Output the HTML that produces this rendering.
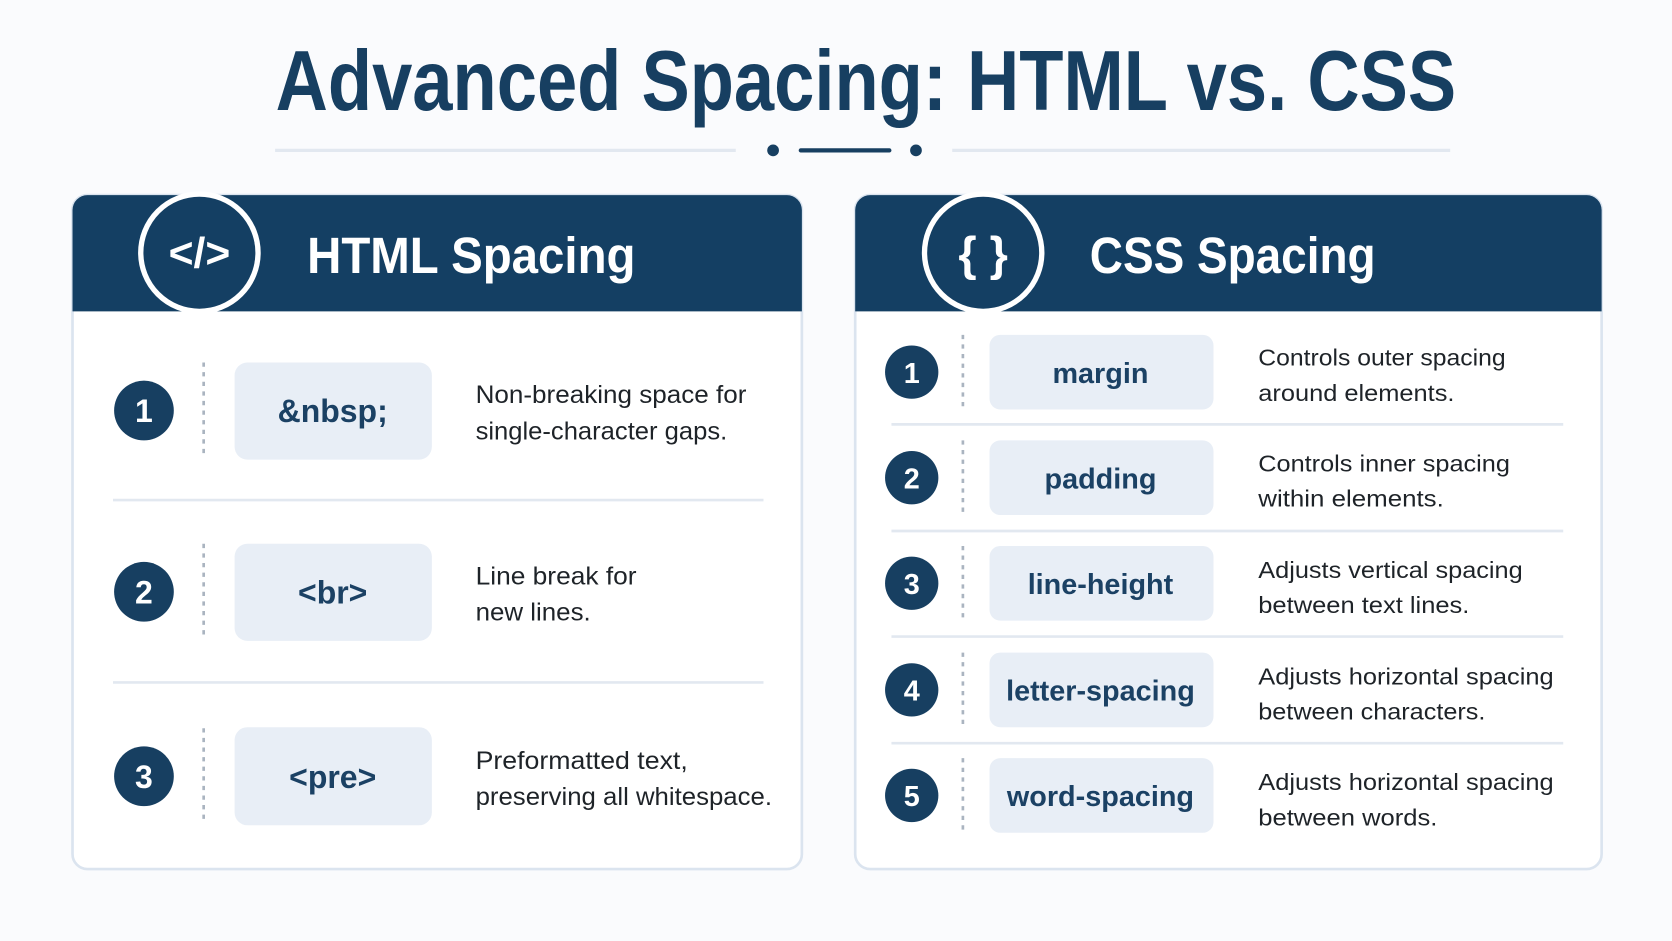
<!DOCTYPE html>
<html><head><meta charset="utf-8"><style>
html,body{margin:0;padding:0;background:#fafbfd;}
svg{display:block;}
text{font-family:"Liberation Sans",sans-serif;}
.code{font-weight:bold;fill:#1b4164;text-anchor:middle;}
.desc{fill:#1e2328;}
.num{fill:#fff;font-weight:bold;text-anchor:middle;}
</style></head><body>
<svg width="1672" height="941" viewBox="0 0 1568 882.5" preserveAspectRatio="none" xmlns="http://www.w3.org/2000/svg">
<rect width="1568" height="882.5" fill="#fafbfd"/>
<text x="812" y="103" font-size="80" font-weight="bold" fill="#173f61" text-anchor="middle" textLength="1107" lengthAdjust="spacingAndGlyphs">Advanced Spacing: HTML vs. CSS</text>
<line x1="258" y1="141" x2="690" y2="141" stroke="#e2e8f0" stroke-width="3"/>
<line x1="893" y1="141" x2="1360" y2="141" stroke="#e2e8f0" stroke-width="3"/>
<circle cx="725" cy="141" r="5.5" fill="#173f61"/>
<circle cx="859" cy="141" r="5.5" fill="#173f61"/>
<line x1="751" y1="141" x2="834" y2="141" stroke="#173f61" stroke-width="4" stroke-linecap="round"/>

<!-- Left card -->
<rect x="68" y="183" width="684" height="632" rx="14" fill="#fff" stroke="#dbe4ef" stroke-width="2.5"/>
<path d="M68 292 V197 a14 14 0 0 1 14 -14 H738 a14 14 0 0 1 14 14 V292 Z" fill="#143f63"/>
<circle cx="187" cy="237" r="55" fill="#143f63" stroke="#fff" stroke-width="5"/>
<text x="187" y="251" font-size="40" font-weight="bold" fill="#fff" text-anchor="middle">&lt;/&gt;</text>
<text x="288" y="256" font-size="48" font-weight="bold" fill="#fff" textLength="308" lengthAdjust="spacingAndGlyphs">HTML Spacing</text>
<line x1="106" y1="469" x2="716" y2="469" stroke="#e2e8f0" stroke-width="2.5"/>
<line x1="106" y1="640" x2="716" y2="640" stroke="#e2e8f0" stroke-width="2.5"/>

<g>
<circle cx="135" cy="385" r="28" fill="#173f61"/><text class="num" x="135" y="396" font-size="30">1</text>
<line x1="191" y1="340" x2="191" y2="430" stroke="#aab4c0" stroke-width="2.5" stroke-dasharray="4 5"/>
<rect x="220" y="340" width="185" height="91" rx="12" fill="#e8eef6"/>
<text class="code" x="312" y="396" font-size="30">&amp;nbsp;</text>
<text class="desc" x="446" y="378" font-size="23" textLength="254" lengthAdjust="spacingAndGlyphs">Non-breaking space for</text>
<text class="desc" x="446" y="412" font-size="23" textLength="236" lengthAdjust="spacingAndGlyphs">single-character gaps.</text>
</g>
<g>
<circle cx="135" cy="555" r="28" fill="#173f61"/><text class="num" x="135" y="566" font-size="30">2</text>
<line x1="191" y1="510" x2="191" y2="600" stroke="#aab4c0" stroke-width="2.5" stroke-dasharray="4 5"/>
<rect x="220" y="510" width="185" height="91" rx="12" fill="#e8eef6"/>
<text class="code" x="312" y="566" font-size="30">&lt;br&gt;</text>
<text class="desc" x="446" y="548" font-size="23" textLength="151" lengthAdjust="spacingAndGlyphs">Line break for</text>
<text class="desc" x="446" y="582" font-size="23" textLength="108" lengthAdjust="spacingAndGlyphs">new lines.</text>
</g>
<g>
<circle cx="135" cy="728" r="28" fill="#173f61"/><text class="num" x="135" y="739" font-size="30">3</text>
<line x1="191" y1="683" x2="191" y2="773" stroke="#aab4c0" stroke-width="2.5" stroke-dasharray="4 5"/>
<rect x="220" y="682" width="185" height="92" rx="12" fill="#e8eef6"/>
<text class="code" x="312" y="739" font-size="30">&lt;pre&gt;</text>
<text class="desc" x="446" y="721" font-size="23" textLength="199" lengthAdjust="spacingAndGlyphs">Preformatted text,</text>
<text class="desc" x="446" y="755" font-size="23" textLength="278" lengthAdjust="spacingAndGlyphs">preserving all whitespace.</text>
</g>

<!-- Right card -->
<rect x="802" y="183" width="700" height="632" rx="14" fill="#fff" stroke="#dbe4ef" stroke-width="2.5"/>
<path d="M802 292 V197 a14 14 0 0 1 14 -14 H1488 a14 14 0 0 1 14 14 V292 Z" fill="#143f63"/>
<circle cx="922" cy="237" r="55" fill="#143f63" stroke="#fff" stroke-width="5"/>
<text x="922" y="253" font-size="44" font-weight="bold" fill="#fff" text-anchor="middle">{ }</text>
<text x="1022" y="256" font-size="48" font-weight="bold" fill="#fff" textLength="268" lengthAdjust="spacingAndGlyphs">CSS Spacing</text>
<g stroke="#e2e8f0" stroke-width="2.5">
<line x1="836" y1="398" x2="1466" y2="398"/><line x1="836" y1="498" x2="1466" y2="498"/>
<line x1="836" y1="597" x2="1466" y2="597"/><line x1="836" y1="697" x2="1466" y2="697"/>
</g>

<g>
<circle cx="855" cy="349" r="25" fill="#173f61"/><text class="num" x="855" y="359" font-size="27">1</text>
<line x1="903" y1="314" x2="903" y2="384" stroke="#aab4c0" stroke-width="2.5" stroke-dasharray="4 5"/>
<rect x="928" y="314" width="210" height="70" rx="10" fill="#e8eef6"/>
<text class="code" x="1032" y="359" font-size="27">margin</text>
<text class="desc" x="1180" y="343" font-size="22" textLength="232" lengthAdjust="spacingAndGlyphs">Controls outer spacing</text>
<text class="desc" x="1180" y="376" font-size="22" textLength="184" lengthAdjust="spacingAndGlyphs">around elements.</text>
</g>
<g>
<circle cx="855" cy="448" r="25" fill="#173f61"/><text class="num" x="855" y="458" font-size="27">2</text>
<line x1="903" y1="413" x2="903" y2="483" stroke="#aab4c0" stroke-width="2.5" stroke-dasharray="4 5"/>
<rect x="928" y="413" width="210" height="70" rx="10" fill="#e8eef6"/>
<text class="code" x="1032" y="458" font-size="27">padding</text>
<text class="desc" x="1180" y="442" font-size="22" textLength="236" lengthAdjust="spacingAndGlyphs">Controls inner spacing</text>
<text class="desc" x="1180" y="475" font-size="22" textLength="174" lengthAdjust="spacingAndGlyphs">within elements.</text>
</g>
<g>
<circle cx="855" cy="547" r="25" fill="#173f61"/><text class="num" x="855" y="557" font-size="27">3</text>
<line x1="903" y1="512" x2="903" y2="582" stroke="#aab4c0" stroke-width="2.5" stroke-dasharray="4 5"/>
<rect x="928" y="512" width="210" height="70" rx="10" fill="#e8eef6"/>
<text class="code" x="1032" y="557" font-size="27">line-height</text>
<text class="desc" x="1180" y="542" font-size="22" textLength="248" lengthAdjust="spacingAndGlyphs">Adjusts vertical spacing</text>
<text class="desc" x="1180" y="575" font-size="22" textLength="198" lengthAdjust="spacingAndGlyphs">between text lines.</text>
</g>
<g>
<circle cx="855" cy="647" r="25" fill="#173f61"/><text class="num" x="855" y="657" font-size="27">4</text>
<line x1="903" y1="612" x2="903" y2="682" stroke="#aab4c0" stroke-width="2.5" stroke-dasharray="4 5"/>
<rect x="928" y="612" width="210" height="70" rx="10" fill="#e8eef6"/>
<text class="code" x="1032" y="657" font-size="27">letter-spacing</text>
<text class="desc" x="1180" y="642" font-size="22" textLength="277" lengthAdjust="spacingAndGlyphs">Adjusts horizontal spacing</text>
<text class="desc" x="1180" y="675" font-size="22" textLength="213" lengthAdjust="spacingAndGlyphs">between characters.</text>
</g>
<g>
<circle cx="855" cy="746" r="25" fill="#173f61"/><text class="num" x="855" y="756" font-size="27">5</text>
<line x1="903" y1="711" x2="903" y2="781" stroke="#aab4c0" stroke-width="2.5" stroke-dasharray="4 5"/>
<rect x="928" y="711" width="210" height="70" rx="10" fill="#e8eef6"/>
<text class="code" x="1032" y="756" font-size="27">word-spacing</text>
<text class="desc" x="1180" y="741" font-size="22" textLength="277" lengthAdjust="spacingAndGlyphs">Adjusts horizontal spacing</text>
<text class="desc" x="1180" y="774" font-size="22" textLength="168" lengthAdjust="spacingAndGlyphs">between words.</text>
</g>
</svg>
</body></html>
